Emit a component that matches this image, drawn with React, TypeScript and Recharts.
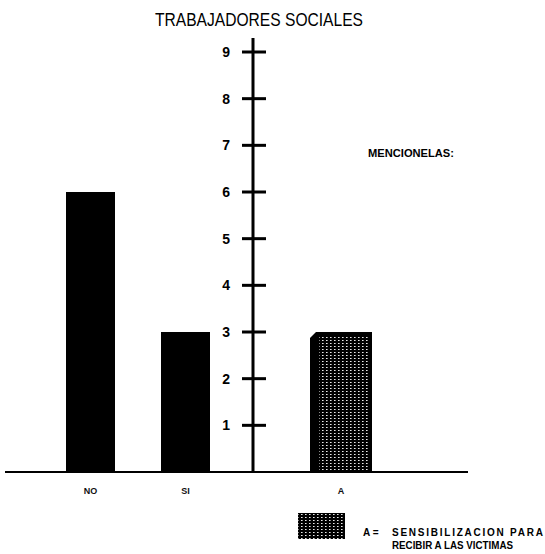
import { BarChart, Bar, XAxis, YAxis } from "recharts";

const categories = ["NO", "SI", "A"];
const values = [6, 3, 3];
// first two answer the yes/no question, "A" is the listed mention
const groups = ["pregunta", "pregunta", "menciones"];
const yTicks = [1, 2, 3, 4, 5, 6, 7, 8, 9];
const yMax = 9.3;

const title = "TRABAJADORES SOCIALES";
const subLabel = "MENCIONELAS:";
const legendKey = "A =";
const legendLines = ["SENSIBILIZACION PARA", "RECIBIR A LAS VICTIMAS"];

const FONT = "'Liberation Sans', Arial, Helvetica, sans-serif";

const rows = categories.map((c, i) => ({ name: c, value: values[i], group: groups[i] }));
const leftData = rows.filter((r) => r.group === "pregunta");
const rightData = rows.filter((r) => r.group === "menciones");

function DotPattern({ id }: { id: string }) {
  return (
    <pattern id={id} width={4} height={3} patternUnits="userSpaceOnUse">
      <rect width={4} height={3} fill="#000" />
      <rect x={1} y={1} width={1.6} height={1} fill="#e8e8e8" />
    </pattern>
  );
}

function MentionBar(props: any) {
  const { x, y, width, height } = props;
  if (!height || height <= 0) return null;
  return (
    <g>
      <path
        d={`M${x + 6},${y} L${x + width},${y} L${x + width},${y + height} L${x},${y + height} L${x},${y + 6} Z`}
        fill="#000"
      />
      <rect x={x + 9} y={y + 4} width={width - 12} height={height - 4} fill="url(#dotsA)" />
    </g>
  );
}

function CrossTick(props: any) {
  const { x, y, payload } = props;
  return (
    <g>
      <line x1={x - 11} x2={x + 13} y1={y} y2={y} stroke="#000" strokeWidth={3} />
      <text x={x - 23} y={y + 5} textAnchor="end" fontFamily={FONT} fontWeight="bold" fontSize={14} fill="#000">
        {payload.value}
      </text>
    </g>
  );
}

function CatTick(props: any) {
  const { x, y, payload } = props;
  return (
    <text x={x} y={y + 14} textAnchor="middle" fontFamily={FONT} fontWeight="bold" fontSize={9} fill="#111">
      {payload.value}
    </text>
  );
}

export default function App() {
  return (
    <div style={{ position: "absolute", left: 0, top: 0, width: 545, height: 554, background: "#fff" }}>
      <div style={{ position: "absolute", left: 0, top: 0 }}>
        <BarChart width={253} height={520} data={leftData} margin={{ top: 38, right: 0, bottom: 0, left: 5 }}>
          <YAxis hide domain={[0, yMax]} />
          <XAxis
            dataKey="name"
            height={48}
            padding={{ left: 38, right: 20 }}
            axisLine={{ stroke: "#000", strokeWidth: 2 }}
            tickLine={false}
            tick={<CatTick />}
          />
          <Bar dataKey="value" fill="#000" barSize={49} isAnimationActive={false} />
        </BarChart>
      </div>
      <div style={{ position: "absolute", left: 213, top: 0 }}>
        <BarChart width={268} height={520} data={rightData} margin={{ top: 38, right: 13, bottom: 0, left: 0 }}>
          <defs>
            <DotPattern id="dotsA" />
          </defs>
          <XAxis
            dataKey="name"
            height={48}
            padding={{ left: 0, right: 39 }}
            axisLine={{ stroke: "#000", strokeWidth: 2 }}
            tickLine={false}
            tick={<CatTick />}
          />
          <YAxis
            width={40}
            domain={[0, yMax]}
            ticks={yTicks}
            interval={0}
            axisLine={{ stroke: "#000", strokeWidth: 3 }}
            tickLine={false}
            tickSize={0}
            tickMargin={0}
            tick={<CrossTick />}
          />
          <Bar dataKey="value" fill="#000" barSize={62} shape={<MentionBar />} isAnimationActive={false} />
        </BarChart>
      </div>
      <svg width={545} height={554} style={{ position: "absolute", left: 0, top: 0, pointerEvents: "none" }}>
        <defs>
          <DotPattern id="dotsLegend" />
        </defs>
        <text x={259} y={26} textAnchor="middle" fontFamily={FONT} fontSize={18} textLength={208} lengthAdjust="spacingAndGlyphs" fill="#000">
          {title}
        </text>
        <text x={368} y={157} fontFamily={FONT} fontWeight="bold" fontSize={10} textLength={86} lengthAdjust="spacingAndGlyphs" fill="#000">
          {subLabel}
        </text>
        <rect x={298} y={513} width={47} height={26} fill="url(#dotsLegend)" />
        <text x={363} y={536} fontFamily={FONT} fontWeight="bold" fontSize={10} fill="#000">
          {legendKey}
        </text>
        <text x={392} y={536} fontFamily={FONT} fontWeight="bold" fontSize={10} textLength={151} lengthAdjust="spacing" fill="#000">
          {legendLines[0]}
        </text>
        <text x={392} y={549} fontFamily={FONT} fontWeight="bold" fontSize={10} textLength={121} lengthAdjust="spacingAndGlyphs" fill="#000">
          {legendLines[1]}
        </text>
      </svg>
    </div>
  );
}
